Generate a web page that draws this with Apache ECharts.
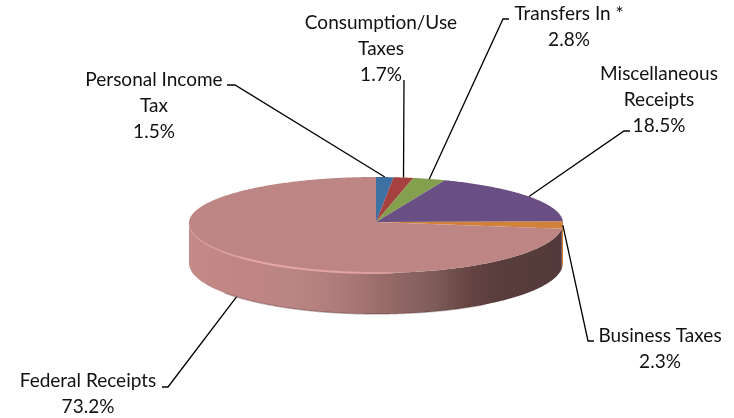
<!DOCTYPE html>
<html><head><meta charset="utf-8">
<style>html,body{margin:0;padding:0;background:#fff}#c{width:734px;height:418px;filter:blur(0.45px)}</style>
<script src="https://cdn.jsdelivr.net/npm/echarts@6/dist/echarts.min.js"></script>
</head><body><div id="c"></div>
<script>
const categories = ['Personal Income\nTax', 'Consumption/Use\nTaxes', 'Transfers In *', 'Miscellaneous\nReceipts', 'Business Taxes', 'Federal Receipts'];
const values = [1.5, 1.7, 2.8, 18.5, 2.3, 73.2];

const colors = ['#3f70a3', '#a5423f', '#84a04e', '#6a4f85', '#d2813a', '#bd8583'];
// label layout: text centre, first line centre y, elbow end, elbow corner
const labelLayout = [
  {x:154, y:80,  ex:227, ey:85,  cx:235, cy:85,  lower:false},
  {x:381, y:23,  ex:404, ey:80,  cx:404, cy:80,  lower:false},
  {x:569, y:14,  ex:509, ey:19,  cx:503, cy:19,  lower:false},
  {x:659, y:74,  ex:630, ey:131, cx:624, cy:131, lower:false},
  {x:660, y:336, ex:594, ey:341, cx:588, cy:341, lower:false},
  {x:88,  y:381, ex:162, ey:387, cx:168, cy:387, lower:true}
];
const geo = {cx:376, cy:223, rx:187, ryBack:46, ryFront:50, depth:40, ryLower:51};
const total = values.reduce((a,b)=>a+b,0);
const starts = []; { let s=0; values.forEach(v=>{starts.push(s); s+=v;}); }
const ang = p => p/total*2*Math.PI;
function pt(a, lower){
  const c=Math.cos(a), s=Math.sin(a);
  const ry = c>0 ? geo.ryBack : (lower ? geo.ryLower : geo.ryFront);
  return [geo.cx+geo.rx*s, geo.cy+(lower?geo.depth:0)-c*ry];
}
function arc(a0,a1,lower){
  const n=Math.max(2,Math.ceil(Math.abs(a1-a0)/0.01)), out=[];
  for(let i=0;i<=n;i++) out.push(pt(a0+(a1-a0)*i/n,lower));
  return out;
}
const LG = (x0,y0,x1,y1,st)=>new echarts.graphic.LinearGradient(x0,y0,x1,y1,st.map(s=>({offset:s[0],color:s[1]})));
const wallStops = [[0,'#c48a88'],[.155,'#c08583'],[.29,'#b98583'],[.42,'#ab7a78'],[.51,'#9a6d6c'],[.66,'#7e5b59'],[.75,'#654442'],[.84,'#583d3c'],[1,'#54393a']];

function renderWall(params, api){
  const i=params.dataIndex;
  const a0=Math.max(ang(starts[i]),Math.PI/2), a1=Math.min(ang(starts[i]+api.value(0)),Math.PI*1.5);
  if(a1<=a0) return {type:'group',children:[]};
  const pts=arc(a0,a1,false).concat(arc(a1,a0,true));
  const isBig = api.value(0)>50;
  const kids=[{type:'polygon',shape:{points:pts},style:{fill:isBig?LG(0,0,1,0,wallStops):colors[i]}}];
  if(isBig){
    kids.push({type:'polyline',shape:{points:arc(Math.PI*0.8,Math.PI*1.3,true)},style:{fill:'none',stroke:'rgba(70,40,40,0.3)',lineWidth:1.5}});
  }
  return {type:'group',children:kids};
}
function renderFace(params, api){
  const i=params.dataIndex;
  const a0=ang(starts[i]), a1=ang(starts[i]+api.value(0));
  const pts=[[geo.cx,geo.cy-1]].concat(arc(a0,a1,false));
  const kids=[{type:'polygon',shape:{points:pts},style:{fill:colors[i]}}];
  if(api.value(0)>50){
    kids.push({type:'polyline',shape:{points:arc(Math.PI*0.97,Math.PI*1.5,false)},
      style:{fill:'none',lineWidth:2,stroke:LG(0,0,1,0,[[0,'rgba(226,160,160,0.2)'],[.35,'#e6a8a7'],[.8,'#e2a3a2'],[1,'#d39a98']])}});
  }
  return {type:'group',children:kids};
}
function renderLabel(params, api){
  const i=params.dataIndex, L=labelLayout[i];
  const mid=ang(starts[i]+api.value(0)/2);
  const p=pt(mid,L.lower);
  const lines=(categories[i]+'\n'+api.value(0).toFixed(1)+'%').split('\n');
  const kids=[{type:'polyline',shape:{points:[[L.ex,L.ey],[L.cx,L.cy],p]},style:{fill:'none',stroke:'#000',lineWidth:1.3}}];
  lines.forEach((t,k)=>kids.push({type:'text',x:L.x,y:L.y+k*26,
    style:{text:t,align:'center',verticalAlign:'middle',fill:'#111',font:'19px Lato'}}));
  return {type:'group',children:kids};
}
const chart=echarts.init(document.getElementById('c'),null,{renderer:'canvas'});
const seriesData=values.map((v,i)=>({value:v,name:categories[i].replace('\n',' ')}));
chart.setOption({
  animation:false,backgroundColor:'#fff',tooltip:{show:false},
  series:[
    {type:'custom',name:'side',coordinateSystem:'none',silent:true,z:1,renderItem:renderWall,data:seriesData},
    {type:'custom',name:'share',coordinateSystem:'none',silent:true,z:2,renderItem:renderFace,data:seriesData},
    {type:'custom',name:'labels',coordinateSystem:'none',silent:true,z:3,renderItem:renderLabel,data:seriesData}
  ]
});
</script></body></html>
